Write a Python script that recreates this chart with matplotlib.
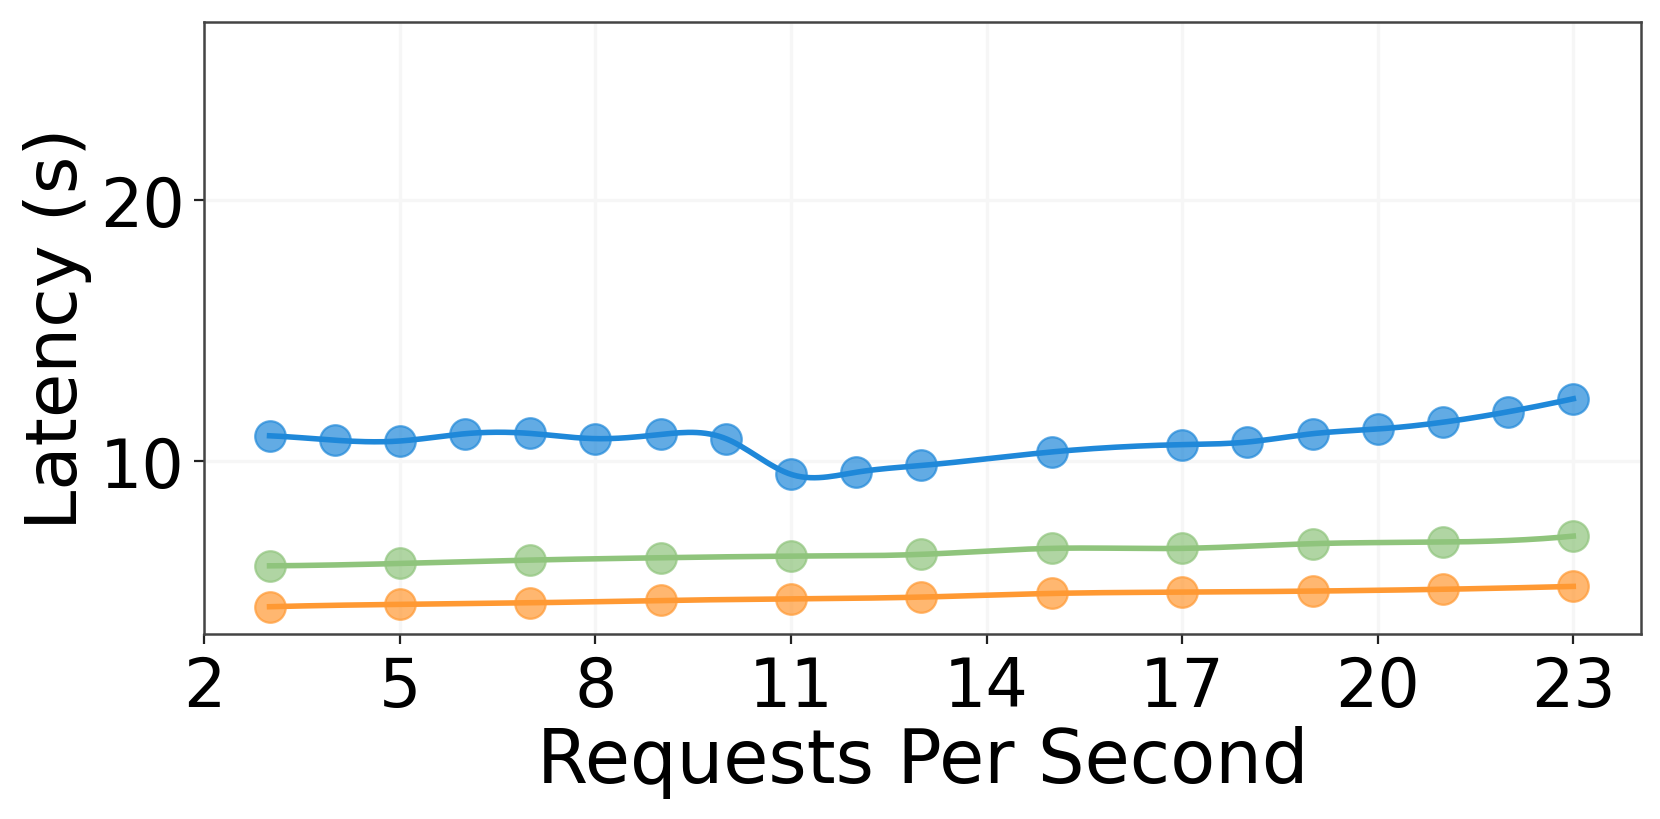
import numpy as np
import matplotlib
matplotlib.use("Agg")
import matplotlib.pyplot as plt

# ---- data ----
x_blue = [3, 4, 5, 6, 7, 8, 9, 10, 11, 12, 13, 15, 17, 18, 19, 20, 21, 22, 23]
y_blue = [10.95, 10.78, 10.75, 11.03, 11.04, 10.84, 11.0, 10.84, 9.47, 9.55, 9.81,
          10.33, 10.61, 10.71, 11.03, 11.21, 11.47, 11.87, 12.37]
x_green = [3, 5, 7, 9, 11, 13, 15, 17, 19, 21, 23]
y_green = [5.96, 6.05, 6.18, 6.27, 6.33, 6.40, 6.63, 6.63, 6.81, 6.87, 7.10]
x_orange = [3, 5, 7, 9, 11, 13, 15, 17, 19, 21, 23]
y_orange = [4.39, 4.48, 4.54, 4.63, 4.69, 4.76, 4.90, 4.95, 4.99, 5.06, 5.17]
x_ticks = [2, 5, 8, 11, 14, 17, 20, 23]
y_ticks = [10, 20]

COL_BLUE = "#1f88d9"
COL_GREEN = "#8fc47c"
COL_ORANGE = "#ff9933"


def smooth(x, y, n=300):
    x = np.asarray(x, float)
    y = np.asarray(y, float)
    try:
        from scipy.interpolate import make_interp_spline
        xs = np.linspace(x.min(), x.max(), n)
        return xs, make_interp_spline(x, y, k=3)(xs)
    except Exception:
        # natural cubic spline
        m = len(x)
        h = np.diff(x)
        A = np.zeros((m, m))
        b = np.zeros(m)
        A[0, 0] = A[-1, -1] = 1
        for i in range(1, m - 1):
            A[i, i - 1] = h[i - 1]
            A[i, i] = 2 * (h[i - 1] + h[i])
            A[i, i + 1] = h[i]
            b[i] = 3 * ((y[i + 1] - y[i]) / h[i] - (y[i] - y[i - 1]) / h[i - 1])
        c = np.linalg.solve(A, b)
        bb = (y[1:] - y[:-1]) / h - h * (2 * c[:-1] + c[1:]) / 3
        d = (c[1:] - c[:-1]) / (3 * h)
        xs = np.linspace(x.min(), x.max(), n)
        idx = np.clip(np.searchsorted(x, xs) - 1, 0, m - 2)
        dx = xs - x[idx]
        ys = y[idx] + bb[idx] * dx + c[idx] * dx ** 2 + d[idx] * dx ** 3
        return xs, ys


fig = plt.figure(figsize=(8.3, 4.1), dpi=200)
ax = fig.add_axes([0.1231, 0.2255, 0.8655, 0.7465])

for xv, yv, col in [(x_blue, y_blue, COL_BLUE), (x_green, y_green, COL_GREEN),
                    (x_orange, y_orange, COL_ORANGE)]:
    xs, ys = smooth(xv, yv)
    ax.plot(xs, ys, color=col, lw=2.0, zorder=3)
    ax.plot(xv, yv, 'o', color=col, ms=11, alpha=0.7, mec=col, mew=0.8, zorder=4)

ax.set_xlim(2, 24.04)
ax.set_ylim(3.34, 26.83)
ax.set_xticks(x_ticks)
ax.set_yticks(y_ticks)
ax.tick_params(labelsize=24, length=3.5, width=0.8, color="#222222")
ax.grid(True, color="#f6f6f6", lw=1.2)
ax.set_axisbelow(True)
for s in ax.spines.values():
    s.set_color("#444444")
    s.set_linewidth(0.9)
ax.set_xlabel("Requests Per Second", fontsize=26.5, labelpad=2)
ax.set_ylabel("Latency (s)", fontsize=26, labelpad=3)

fig.savefig("out.png", dpi=200)
